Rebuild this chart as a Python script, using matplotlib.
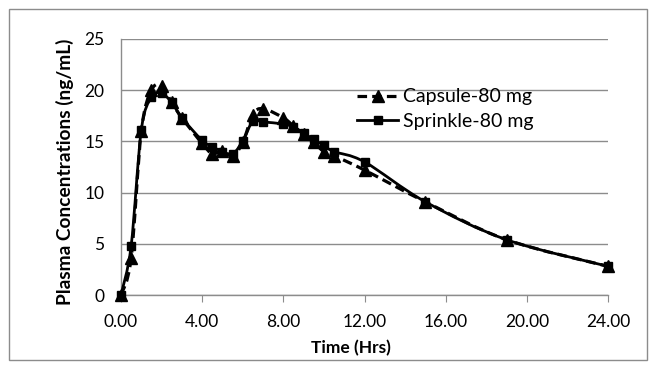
import matplotlib
matplotlib.use("Agg")
import matplotlib.pyplot as plt
import numpy as np
from matplotlib.path import Path
from matplotlib.patches import PathPatch, Rectangle
from matplotlib.lines import Line2D

# ── Data ──────────────────────────────────────────────────────────────────────
time_hrs = [0, 0.5, 1, 1.5, 2, 2.5, 3, 4, 4.5, 5, 5.5, 6, 6.5, 7,
            8, 8.5, 9, 9.5, 10, 10.5, 12, 15, 19, 24]
capsule = [0, 3.6, 16.0, 20.0, 20.4, 18.8, 17.3, 14.8, 13.8, 14.1, 13.6, 14.9,
           17.6, 18.2, 17.3, 16.5, 15.7, 14.9, 14.0, 13.6, 12.2, 9.1, 5.4, 2.8]
sprinkle = [0, 4.8, 16.1, 19.3, 19.7, 18.8, 17.3, 15.1, 14.5, 14.0, 13.8, 15.0,
            17.0, 16.9, 16.7, 16.4, 15.8, 15.2, 14.6, 14.0, 13.0, 9.1, 5.4, 2.8]
xticks = [0, 4, 8, 12, 16, 20, 24]
yticks = [0, 5, 10, 15, 20, 25]

plt.rcParams["font.family"] = ["Lato", "DejaVu Sans"]
GRID = "#8c8c8c"


def smooth_path(x, y):
    """Excel-style smoothed line: cubic Bezier through every point."""
    p = np.column_stack([x, y]).astype(float)
    verts = [p[0]]
    codes = [Path.MOVETO]
    n = len(p)
    for i in range(n - 1):
        prev = p[i - 1] if i > 0 else p[i]
        nxt = p[i + 2] if i + 2 < n else p[i + 1]
        c1 = p[i] + (p[i + 1] - prev) / 6.0
        c2 = p[i + 1] - (nxt - p[i]) / 6.0
        verts += [c1, c2, p[i + 1]]
        codes += [Path.CURVE4] * 3
    return Path(verts, codes)


fig = plt.figure(figsize=(6.56, 3.72), dpi=100)
ax = fig.add_axes([121 / 656, 77 / 372, 487 / 656, 256 / 372])

dash = (0, (3.0, 1.6))
ax.add_patch(PathPatch(smooth_path(time_hrs, capsule), fill=False,
                       lw=2.3, ls=dash, color="black", zorder=3))
ax.add_patch(PathPatch(smooth_path(time_hrs, sprinkle), fill=False,
                       lw=2.0, color="black", zorder=3))
ax.plot(time_hrs, sprinkle, ls="none", marker="s", ms=5.5, color="black",
        zorder=4, clip_on=False)
ax.plot(time_hrs, capsule, ls="none", marker="^", ms=8, color="black",
        zorder=5, clip_on=False)

ax.set_xlim(0, 24)
ax.set_ylim(0, 25)
ax.set_xticks(xticks)
ax.set_xticklabels([f"{v:.2f}" for v in xticks], fontsize=12.5)
ax.set_yticks(yticks)
ax.set_yticklabels([str(v) for v in yticks], fontsize=12.5)
ax.tick_params(axis="x", direction="out", length=5, color=GRID, pad=9)
ax.tick_params(axis="y", length=0, pad=12)
ax.yaxis.grid(True, color=GRID, lw=1)
ax.set_axisbelow(True)
for side in ("top", "right"):
    ax.spines[side].set_visible(False)
for side in ("left", "bottom"):
    ax.spines[side].set_color(GRID)
    ax.spines[side].set_linewidth(1)

ax.set_xlabel("Time (Hrs)", fontsize=12.5, fontweight="bold", va="center")
ax.xaxis.set_label_coords(0.472, -0.207)
ax.set_ylabel("Plasma Concentrations (ng/mL)", fontsize=13.8,
              fontweight="bold", va="center")
ax.yaxis.set_label_coords(-0.115, 0.48)

handles = [
    Line2D([], [], color="black", lw=2.3, ls=dash, marker="^", ms=8),
    Line2D([], [], color="black", lw=2.0, marker="s", ms=5.5),
]
ax.legend(handles, ["Capsule-80 mg", "Sprinkle-80 mg"], loc="upper left",
          bbox_to_anchor=(0.465, 0.845), frameon=False, fontsize=14,
          handlelength=2.1, handletextpad=0.25, labelspacing=0.4,
          borderpad=0)

fig.patches.append(Rectangle((9 / 656, 12 / 372), 638 / 656, 351 / 372,
                             transform=fig.transFigure, fill=False,
                             ec=GRID, lw=1))

fig.savefig("out.png", dpi=100)
